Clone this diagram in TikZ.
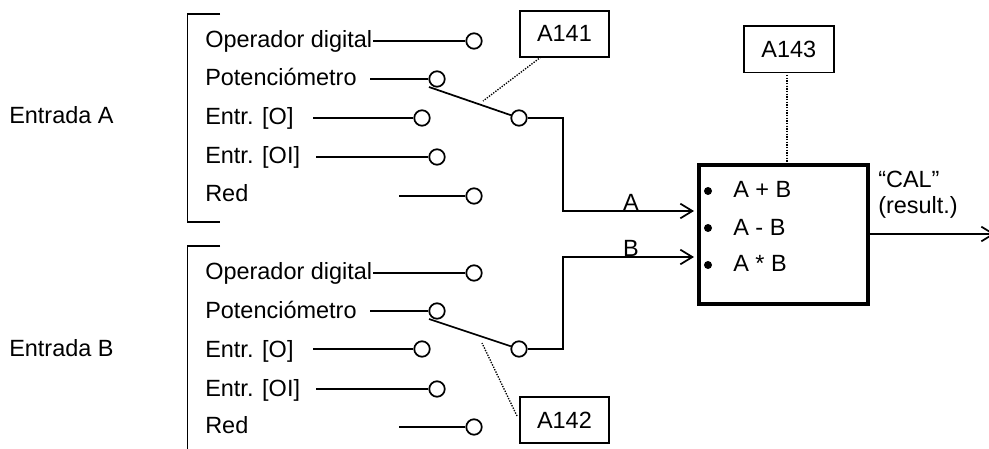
\documentclass[tikz,border=0pt]{standalone}
\usepackage{fontspec}
\setmainfont{Liberation Sans}
\usetikzlibrary{arrows.meta}
\tikzset{
  lbl/.style={anchor=base west,inner sep=0pt,font=\fontsize{17.6pt}{20pt}\selectfont},
  term/.style={circle,draw=black,fill=white,line width=1.3pt,minimum size=11.6pt,inner sep=0pt},
  wire/.style={black,line width=1.3pt},
  dots/.style={black,line width=1pt,line cap=butt,dash pattern=on 1pt off 1pt},
  param/.style={draw=black,line width=1.3pt,fill=white,inner sep=0pt,font=\fontsize{17.6pt}{20pt}\selectfont},
  arrowwire/.style={wire,-{Straight Barb[length=9pt,width=11pt,line width=1.3pt]}},
  bullet/.style={circle,fill=black,inner sep=0pt,minimum size=6pt}
}
\begin{document}
\begin{tikzpicture}[x=0.75pt,y=-0.75pt]
\useasboundingbox (0,0) rectangle (989,449);
\clip (0,0) rectangle (989,449);
% left labels
\node[lbl] (ea) at (9,124) {Entrada A};
\node[lbl] (eb) at (9,356) {Entrada B};
% brackets
\coordinate (b1a) at (220,14); \coordinate (b1b) at (187.5,14); \coordinate (b1c) at (187.5,222); \coordinate (b1d) at (220,222);
\draw[wire] (b1a) -- (b1b) -- (b1c) -- (b1d);
\coordinate (b2a) at (220,246); \coordinate (b2b) at (187.5,246); \coordinate (b2c) at (187.5,450);
\draw[wire] (b2a) -- (b2b) -- (b2c);
% upper inputs
\node[lbl] (t1) at (205,48) {Operador digital};
\node[lbl] (t2) at (205,86) {Potenciómetro};
\node[lbl] (t3) at (205,125) {Entr. [O]};
\node[lbl] (t4) at (205,164) {Entr. [OI]};
\node[lbl] (t5) at (205,202) {Red};
\coordinate (s1) at (373,41); \coordinate (s2) at (370,79); \coordinate (s3) at (313,118); \coordinate (s4) at (316,157); \coordinate (s5) at (399,196);
\node[term] (c1) at (474,41) {};
\node[term] (c2) at (437,79) {};
\node[term] (c3) at (422,118) {};
\node[term] (c4) at (437,157) {};
\node[term] (c5) at (474,196) {};
\foreach \i in {1,...,5} \draw[wire] (s\i) -- (c\i);
% lower inputs
\node[lbl] (u1) at (205,279) {Operador digital};
\node[lbl] (u2) at (205,318) {Potenciómetro};
\node[lbl] (u3) at (205,357) {Entr. [O]};
\node[lbl] (u4) at (205,396) {Entr. [OI]};
\node[lbl] (u5) at (205,433) {Red};
\coordinate (r1) at (373,273); \coordinate (r2) at (370,311); \coordinate (r3) at (313,349); \coordinate (r4) at (316,389); \coordinate (r5) at (399,427);
\node[term] (d1) at (474,273) {};
\node[term] (d2) at (437,311) {};
\node[term] (d3) at (422,349) {};
\node[term] (d4) at (437,389) {};
\node[term] (d5) at (474,427) {};
\foreach \i in {1,...,5} \draw[wire] (r\i) -- (d\i);
% main box
\node[draw=black,line width=2.8pt,minimum width=127pt,minimum height=104.5pt,inner sep=0pt,anchor=north west] (main) at (697,163) {};
% switches
\coordinate (pa) at (429,87); \coordinate (pb) at (429,319);
\node[term] (swa) at (519,118) {};
\node[term] (swb) at (519,349) {};
\draw[wire] (pa) -- (swa);
\draw[wire] (pb) -- (swb);
% outputs of switches
\coordinate (ka) at (563,118); \coordinate (ma) at (563,211); \coordinate (ia) at (694,211);
\coordinate (kb) at (563,349); \coordinate (mb) at (563,257); \coordinate (ib) at (694,257);
\draw[arrowwire] (swa) -- (ka) -- (ma) -- (ia);
\draw[arrowwire] (swb) -- (kb) -- (mb) -- (ib);
\node[lbl,anchor=base] (la) at (631,210) {A};
\node[lbl,anchor=base] (lb) at (631,257) {B};
% parameter boxes
\node[param,minimum width=66.8pt,minimum height=34.5pt,anchor=north west] (a141) at (519,10) {A141};
\node[param,minimum width=66.8pt,minimum height=34.5pt,anchor=north west] (a142) at (519,396) {A142};
\node[param,minimum width=67.5pt,minimum height=35pt,anchor=north west] (a143) at (743,25) {A143};
% dotted leaders
\coordinate (qa) at (541,57); \coordinate (ea1) at (483,101);
\coordinate (qb) at (517,416); \coordinate (eb1) at (482,343);
\coordinate (qc) at (787,75); \coordinate (ec) at (787,162);
\draw[dots] (qa) -- (ea1);
\draw[dots] (qb) -- (eb1);
\draw[dots] (qc) -- (ec);
% box contents
\node[bullet] (b1) at (708,191) {};
\node[bullet] (b2) at (708,228) {};
\node[bullet] (b3) at (708,265) {};
\node[lbl] (o1) at (733,198) {A + B};
\node[lbl] (o2) at (733,235) {A - B};
\node[lbl] (o3) at (733,272) {A * B};
% result
\node[lbl] (cal) at (878,188) {“CAL”};
\node[lbl] (res) at (878,214) {(result.)};
\coordinate (out) at (995,234);
\coordinate (boxout) at (869,234);
\draw[arrowwire] (boxout) -- (out);
\end{tikzpicture}
\end{document}
